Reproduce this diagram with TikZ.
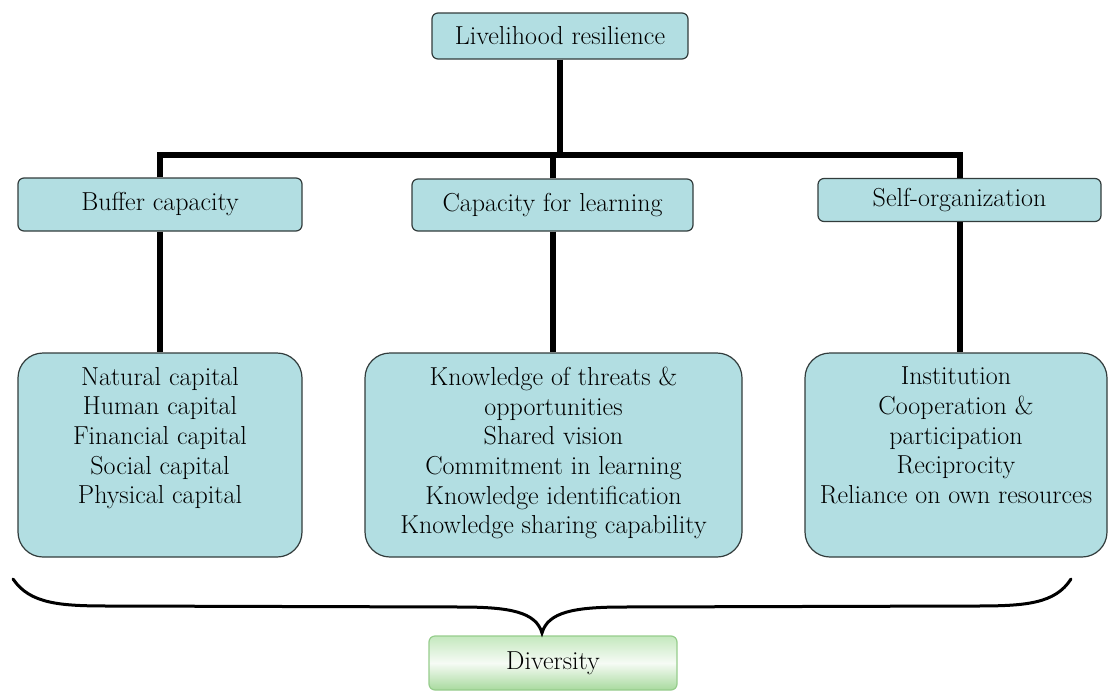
\documentclass[tikz,border=0pt]{standalone}
\definecolor{boxfill}{RGB}{178,222,226}
\definecolor{boxdraw}{RGB}{50,60,60}
\definecolor{divtop}{RGB}{196,232,190}
\definecolor{divmid}{RGB}{246,251,245}
\definecolor{divbot}{RGB}{168,218,158}
\definecolor{divdraw}{RGB}{150,205,140}
\begin{document}
\begin{tikzpicture}[x=1pt,y=-1pt,
  every node/.style={font=\rmfamily\fontsize{26}{29.6}\selectfont},
  smallbox/.style={draw=boxdraw, line width=1.2pt, fill=boxfill, rounded corners=6pt, inner sep=0pt},
  bigbox/.style={draw=boxdraw, line width=1.2pt, fill=boxfill, rounded corners=25pt, inner sep=0pt},
  boxtext/.style={align=center, anchor=north, inner sep=0pt},
  link/.style={line width=6pt, line join=miter},
  bracestyle/.style={line width=3pt, line cap=round},
  divbox/.style={draw=divdraw, line width=1.2pt, top color=divtop, bottom color=divbot, middle color=divmid, rounded corners=6pt, inner sep=0pt}
]
\useasboundingbox (0,0) rectangle (1109,691);

% top level
\node[smallbox, minimum width=256pt, minimum height=46pt] (top) at (560,36) {Livelihood resilience};

% second level
\node[smallbox, minimum width=284pt, minimum height=53pt] (buf) at (160,204.5) {Buffer capacity};
\node[smallbox, minimum width=281pt, minimum height=52pt] (cap) at (552.5,205) {Capacity for learning};
\node[smallbox, minimum width=283pt, minimum height=43pt] (self) at (959.5,200) {Self-organization};

% third level boxes
\node[bigbox, minimum width=284pt, minimum height=204pt] (bufbig) at (160,455) {};
\node[bigbox, minimum width=377pt, minimum height=204pt] (capbig) at (553.5,455) {};
\node[bigbox, minimum width=302pt, minimum height=204pt] (selfbig) at (956,455) {};

\node[boxtext] (buftext) at (160,367) {Natural capital\\Human capital\\Financial capital\\Social capital\\Physical capital};
\node[boxtext] (captext) at (553.5,367) {Knowledge of threats \&\\opportunities\\Shared vision\\Commitment in learning\\Knowledge identification\\Knowledge sharing capability};
\node[boxtext] (selftext) at (956,367) {Institution\\Cooperation \&\\participation\\Reciprocity\\Reliance on own resources};

% diversity
\node[divbox, minimum width=248pt, minimum height=54pt] (div) at (553,663) {Diversity};

% connectors
\coordinate (bus) at (560,155);
\draw[link] (buf.north) -- (buf.north |- bus) -- (self.north |- bus) -- (self.north);
\draw[link] (top.south) -- (top.south |- bus);
\draw[link] (cap.north) -- (cap.north |- bus);
\draw[link] (buf.south) -- (buf.south |- bufbig.north);
\draw[link] (cap.south) -- (cap.south |- capbig.north);
\draw[link] (self.south) -- (self.south |- selfbig.north);

% brace
\coordinate (braceL) at (13,579);
\coordinate (braceR) at (1071,579);
\coordinate (tip) at (542,633);
\draw[bracestyle] (braceL) .. controls (30,604) and (60,606) .. (110,606)
  -- (460,607) .. controls (510,607) and (536,612) .. (tip)
  .. controls (548,612) and (574,607) .. (624,607)
  -- (975,606) .. controls (1025,606) and (1055,604) .. (braceR);
\end{tikzpicture}
\end{document}
